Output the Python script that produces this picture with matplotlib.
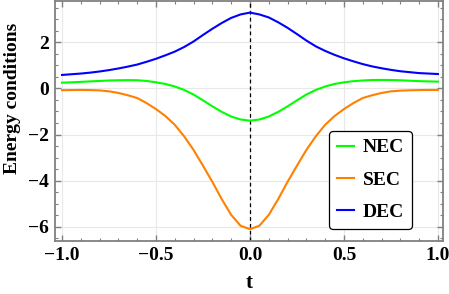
import matplotlib
matplotlib.use("Agg")
import matplotlib.pyplot as plt
from matplotlib.ticker import MultipleLocator, FuncFormatter

# values at t = -1.00, -0.95, ..., 1.00
t = [-1.00, -0.95, -0.90, -0.85, -0.80, -0.75, -0.70, -0.65, -0.60, -0.55,
     -0.50, -0.45, -0.40, -0.35, -0.30, -0.25, -0.20, -0.15, -0.10, -0.05,
     0.00,
     0.05, 0.10, 0.15, 0.20, 0.25, 0.30, 0.35, 0.40, 0.45, 0.50,
     0.55, 0.60, 0.65, 0.70, 0.75, 0.80, 0.85, 0.90, 0.95, 1.00]
nec = [0.245, 0.26, 0.28, 0.30, 0.32, 0.34, 0.35, 0.355, 0.35, 0.32,
       0.26, 0.19, 0.08, -0.07, -0.27, -0.52, -0.78, -1.02, -1.22, -1.35,
       -1.40,
       -1.35, -1.22, -1.02, -0.78, -0.52, -0.27, -0.07, 0.08, 0.19, 0.26,
       0.31, 0.34, 0.36, 0.365, 0.36, 0.35, 0.33, 0.31, 0.30, 0.29]
sec = [-0.08, -0.075, -0.07, -0.075, -0.09, -0.13, -0.20, -0.30, -0.42, -0.64,
       -0.90, -1.20, -1.58, -2.08, -2.67, -3.35, -4.05, -4.80, -5.48, -5.95,
       -6.10,
       -5.95, -5.48, -4.80, -4.05, -3.35, -2.67, -2.08, -1.58, -1.20, -0.90,
       -0.64, -0.42, -0.30, -0.20, -0.13, -0.10, -0.085, -0.075, -0.07, -0.07]
dec = [0.58, 0.61, 0.64, 0.68, 0.73, 0.79, 0.86, 0.94, 1.03, 1.15,
       1.28, 1.43, 1.59, 1.79, 2.03, 2.31, 2.58, 2.83, 3.05, 3.20,
       3.28,
       3.20, 3.07, 2.86, 2.62, 2.35, 2.07, 1.82, 1.62, 1.45, 1.30,
       1.17, 1.05, 0.95, 0.87, 0.80, 0.74, 0.70, 0.66, 0.64, 0.62]

plt.rcParams['font.family'] = ['Liberation Serif', 'DejaVu Serif']
plt.rcParams['font.weight'] = 'bold'

fig = plt.figure(figsize=(4.49, 2.94), dpi=100)
ax = fig.add_axes([0.1214, 0.1803, 0.8652, 0.8146])

ax.grid(True, which="major", color="#e8e8e8", linewidth=0.8)
ax.set_axisbelow(True)
ax.axvline(0, color="black", linestyle=(0, (3, 2.5)), linewidth=0.9, zorder=1)

ax.plot(t, nec, color="#00ff00", linewidth=1.5, label="NEC", zorder=3)
ax.plot(t, sec, color="#ff8000", linewidth=1.5, label="SEC", zorder=3)
ax.plot(t, dec, color="#0000ff", linewidth=1.5, label="DEC", zorder=3)

ax.set_xlim(-1.04, 1.027)
ax.set_ylim(-6.61, 3.76)

ax.xaxis.set_major_locator(MultipleLocator(0.5))
ax.xaxis.set_minor_locator(MultipleLocator(0.1))
ax.yaxis.set_major_locator(MultipleLocator(2))
ax.yaxis.set_minor_locator(MultipleLocator(0.5))
ax.xaxis.set_major_formatter(FuncFormatter(lambda v, p: f"{v:.1f}".replace("-", "\u2212")))
ax.yaxis.set_major_formatter(FuncFormatter(lambda v, p: f"{v:.0f}".replace("-", "\u2212")))

for s in ax.spines.values():
    s.set_color("#808080")
    s.set_linewidth(1.3)

ax.tick_params(which="both", direction="in", top=True, right=True,
               color="#808080", labelsize=14)
ax.tick_params(which="major", length=4, width=1, pad=4)
ax.tick_params(which="minor", length=2.5, width=0.8)

xl = ax.set_xlabel("t", fontsize=15, fontweight="bold")
xl.set_va("center")
ax.xaxis.set_label_coords(0.5, -0.175)
yl = ax.set_ylabel("Energy conditions", fontsize=14, fontweight="bold")
yl.set_va("center")
ax.yaxis.set_label_coords(-0.107, 0.597)

leg = ax.legend(loc="upper left", bbox_to_anchor=(0.706, 0.459), borderaxespad=0,
                fancybox=True, edgecolor="black", framealpha=1,
                prop={'size': 14, 'weight': 'bold'},
                handlelength=0.9, handletextpad=0.45, labelspacing=0.75,
                borderpad=0.4)
leg.get_frame().set_linewidth(0.9)

fig.savefig("out.png", dpi=100)
